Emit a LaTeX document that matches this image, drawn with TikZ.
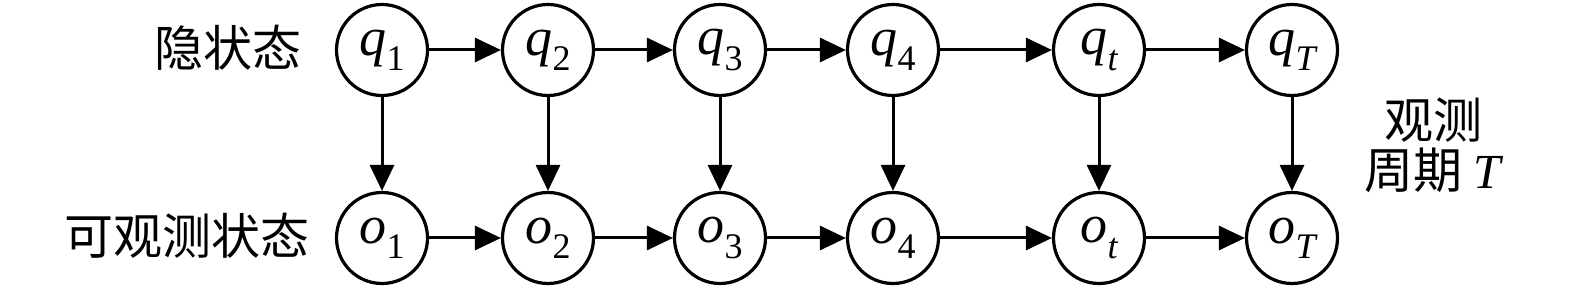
\documentclass[tikz,border=0pt]{standalone}
\usepackage{fontspec}
\setmainfont{Liberation Serif}
\newfontfamily\cjk{Noto Sans CJK SC}
\usetikzlibrary{arrows.meta}
\newcommand{\stt}[2]{\textit{#1}\raisebox{-0.28em}{\fontsize{36}{36}\selectfont #2}}
\newcommand{\sti}[2]{\textit{#1}\raisebox{-0.28em}{\fontsize{36}{36}\selectfont\itshape #2}}
\begin{document}
\begin{tikzpicture}[x=1pt,y=-1pt,
  st/.style={circle,draw,line width=3.2pt,minimum size=91pt,inner sep=0pt,font=\fontsize{54}{54}\selectfont},
  lab/.style={font=\cjk\fontsize{49}{52}\selectfont,inner sep=0pt},
  arr/.style={line width=3pt,-{Triangle[length=26pt,width=24pt]}}]
\useasboundingbox (0,0) rectangle (1575,288);
\node[st] (q1) at (382,50) {\stt{q}{1}};
\node[st] (q2) at (548,50) {\stt{q}{2}};
\node[st] (q3) at (720,50) {\stt{q}{3}};
\node[st] (q4) at (893,50) {\stt{q}{4}};
\node[st] (qt) at (1099,50) {\sti{q}{t}};
\node[st] (qT) at (1292,50) {\sti{q}{T}};
\node[st] (o1) at (382,238) {\stt{o}{1}};
\node[st] (o2) at (548,238) {\stt{o}{2}};
\node[st] (o3) at (720,238) {\stt{o}{3}};
\node[st] (o4) at (893,238) {\stt{o}{4}};
\node[st] (ot) at (1099,238) {\sti{o}{t}};
\node[st] (oT) at (1292,238) {\sti{o}{T}};
\node[lab,anchor=east] (hid) at (302,48) {隐状态};
\node[lab,anchor=east] (obs) at (310,236) {可观测状态};
\node[lab,align=center] (per) at (1433,145) {观测\\[-2pt]周期 {\rmfamily\itshape T}};
\draw[arr] (q1) -- (q2);
\draw[arr] (q2) -- (q3);
\draw[arr] (q3) -- (q4);
\draw[arr] (q4) -- (qt);
\draw[arr] (qt) -- (qT);
\draw[arr] (o1) -- (o2);
\draw[arr] (o2) -- (o3);
\draw[arr] (o3) -- (o4);
\draw[arr] (o4) -- (ot);
\draw[arr] (ot) -- (oT);
\draw[arr] (q1) -- (o1);
\draw[arr] (q2) -- (o2);
\draw[arr] (q3) -- (o3);
\draw[arr] (q4) -- (o4);
\draw[arr] (qt) -- (ot);
\draw[arr] (qT) -- (oT);
\end{tikzpicture}
\end{document}
